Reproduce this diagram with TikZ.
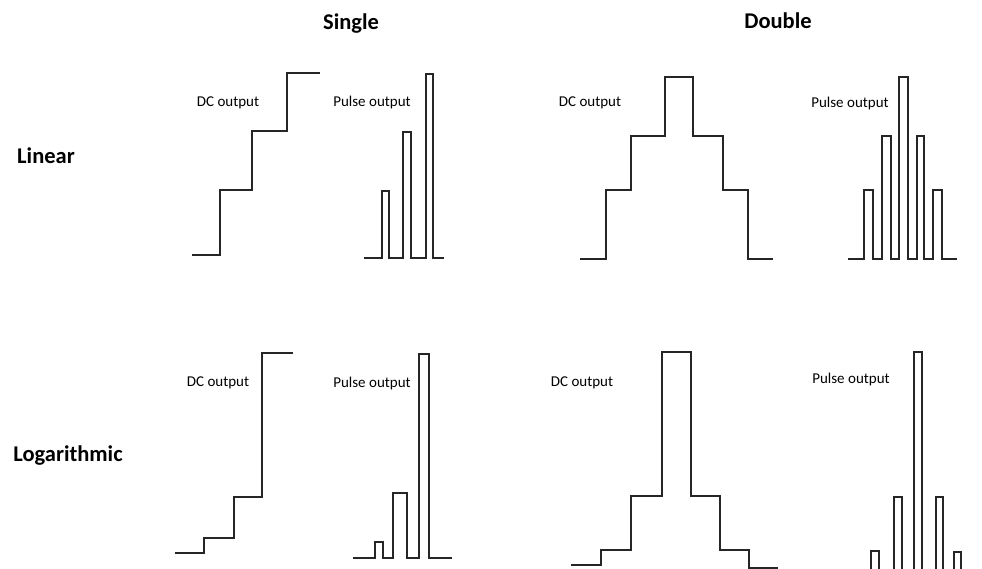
\documentclass[tikz,border=0pt]{standalone}
\usepackage{fontspec}
\setmainfont{Carlito}

\begin{document}
\begin{tikzpicture}[x=1pt, y=-1pt,
  wave/.style={line width=1.6pt, black!85},
  head/.style={font=\fontsize{22.5}{26}\selectfont\bfseries, inner sep=0pt},
  caption/.style={font=\fontsize{15}{18}\selectfont, inner sep=0pt},
]
  \useasboundingbox (0,0) rectangle (982,569);
  \clip (0,0) rectangle (982,569);

  % Headings
  \node[head] (single) at (351,24) {Single};
  \node[head] (double) at (778,21) {Double};
  \node[head] (linear) at (46,156) {Linear};
  \node[head] (logar) at (68,456) {Logarithmic};

  % Linear, single
  \node[caption] (dcSL) at (228,103) {DC output};
  \node[caption] (puSL) at (372,103) {Pulse output};
  \draw[wave] (192,255) -- (220,255) -- (220,190) -- (252,190) -- (252,131)
    -- (287,131) -- (287,73) -- (320,73);
  \draw[wave] (364,258) -- (382,258) -- (382,191) -- (389,191) -- (389,258)
    -- (403,258) -- (403,132) -- (411,132) -- (411,258) -- (426,258)
    -- (426,74) -- (433,74) -- (433,258) -- (444,258);

  % Linear, double
  \node[caption] (dcDL) at (590,103) {DC output};
  \node[caption] (puDL) at (850,104) {Pulse output};
  \draw[wave] (580,259) -- (606,259) -- (606,190) -- (631,190) -- (631,136)
    -- (665,136) -- (665,77) -- (693,77) -- (693,136) -- (723,136)
    -- (723,190) -- (748,190) -- (748,259) -- (773,259);
  \draw[wave] (848,259) -- (864,259) -- (864,190) -- (873,190) -- (873,259)
    -- (882,259) -- (882,136) -- (891,136) -- (891,259) -- (899,259)
    -- (899,77) -- (908,77) -- (908,259) -- (917,259) -- (917,136)
    -- (924,136) -- (924,259) -- (933,259) -- (933,190) -- (942,190)
    -- (942,259) -- (957,259);

  % Logarithmic, single
  \node[caption] (dcSG) at (218,383) {DC output};
  \node[caption] (puSG) at (372,383) {Pulse output};
  \draw[wave] (175,553) -- (204,553) -- (204,538) -- (234,538) -- (234,497)
    -- (262,497) -- (262,353) -- (293,353);
  \draw[wave] (353,558) -- (375,558) -- (375,542) -- (383,542) -- (383,558)
    -- (393,558) -- (393,493) -- (407,493) -- (407,558) -- (419,558)
    -- (419,354) -- (429,354) -- (429,558) -- (452,558);

  % Logarithmic, double
  \node[caption] (dcDG) at (582,383) {DC output};
  \node[caption] (puDG) at (851,379) {Pulse output};
  \draw[wave] (571,565) -- (601,565) -- (601,550) -- (631,550) -- (631,496)
    -- (662,496) -- (662,352) -- (691,352) -- (691,496) -- (720,496)
    -- (720,550) -- (749,550) -- (749,568) -- (778,568);
  \draw[wave] (855,573) -- (871,573) -- (871,551) -- (879,551) -- (879,573)
    -- (894,573) -- (894,497) -- (902,497) -- (902,573) -- (914,573)
    -- (914,352) -- (922,352) -- (922,573) -- (936,573) -- (936,497)
    -- (943,497) -- (943,573) -- (954,573) -- (954,552) -- (961,552)
    -- (961,573) -- (985,573);
\end{tikzpicture}
\end{document}
